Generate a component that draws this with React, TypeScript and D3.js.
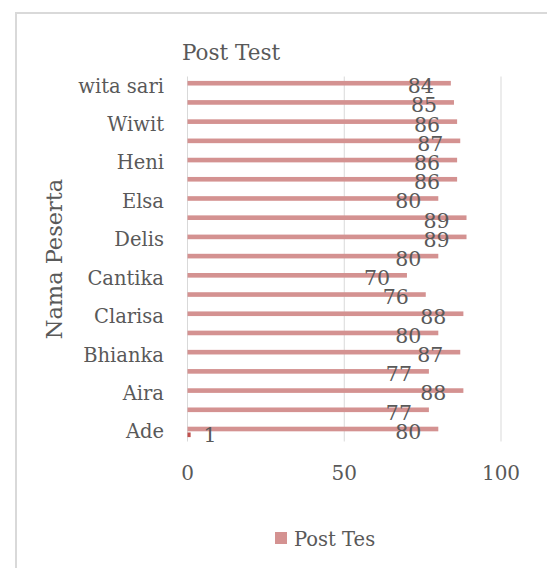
import React from "react";
import * as d3 from "d3";

// Categories from bottom (first) to top (last); unlabeled ones were skipped by the axis
const categories = ["Ade", "", "Aira", "", "Bhianka", "", "Clarisa", "", "Cantika", "", "Delis", "", "Elsa", "", "Heni", "", "Wiwit", "", "wita sari"];
const postTes = [80, 77, 88, 77, 87, 80, 88, 76, 70, 80, 89, 89, 80, 86, 86, 87, 86, 85, 84];
const secondSeries: (number | null)[] = [1, null, null, null, null, null, null, null, null, null, null, null, null, null, null, null, null, null, null];
const xTicks = [0, 50, 100];
const seriesNames = ["Post Tes", "No"];
const chartTitle = "Post Test";
const yTitle = "Nama Peserta";

const W = 547;
const H = 568;
const FONT = "'DejaVu Serif', serif";
const TEXT = "#595959";
const GRID = "#d9d9d9";
const BAR = "#d49291";
const BAR2 = "#c0504d";

export default function App() {
  const x = d3.scaleLinear().domain([0, 100]).range([187.5, 501]);
  const idx = d3.range(categories.length);
  // top of plot = last category
  const y = d3.scaleBand<number>().domain(idx.slice().reverse()).range([76.5, 441.5]).padding(0);
  const inner = d3.scaleBand<string>().domain(seriesNames).range([-5.2, 5.2]).paddingInner(0.2);
  const cc = (i: number) => (y(i) as number) + y.bandwidth() / 2;
  const [y0, y1] = y.range();

  return (
    <svg width={W} height={H} style={{ position: "absolute", left: 0, top: 0, background: "#fff" }}>
      <rect x={16} y={13} width={700} height={700} fill="#fff" stroke={GRID} strokeWidth={2} />
      <text x={182} y={60} fontFamily={FONT} fontSize={21.5} fill={TEXT}>{chartTitle}</text>

      {xTicks.map((t) => (
        <g key={t}>
          <line x1={x(t)} x2={x(t)} y1={y0} y2={y1} stroke={GRID} strokeWidth={1} />
          <text x={x(t)} y={480} textAnchor="middle" fontFamily={FONT} fontSize={20} fill={TEXT}>{t}</text>
        </g>
      ))}

      {idx.map((i) => (
        <g key={i}>
          <rect
            x={x(0)}
            y={cc(i) + (inner(seriesNames[0]) as number)}
            width={x(postTes[i]) - x(0)}
            height={inner.bandwidth()}
            fill={BAR}
          />
          {secondSeries[i] != null && (
            <rect
              x={x(0)}
              y={cc(i) + (inner(seriesNames[1]) as number)}
              width={x(secondSeries[i] as number) - x(0)}
              height={inner.bandwidth()}
              fill={BAR2}
            />
          )}
        </g>
      ))}

      {idx.map((i) => (
        <g key={"l" + i}>
          {categories[i] && i % 2 === 0 && (
            <text x={164} y={cc(i) + 6.5} textAnchor="end" fontFamily={FONT} fontSize={19.5} fill={TEXT}>{categories[i]}</text>
          )}
          <text x={x(postTes[i]) - 30} y={cc(i) + 7} textAnchor="middle" fontFamily={FONT} fontSize={20.5} fill={TEXT}>{postTes[i]}</text>
          {secondSeries[i] != null && (
            <text x={x(secondSeries[i] as number) + 19.5} y={cc(i) + 10} textAnchor="middle" fontFamily={FONT} fontSize={20.5} fill={TEXT}>{secondSeries[i]}</text>
          )}
        </g>
      ))}

      <text transform={`translate(62,259) rotate(-90)`} textAnchor="middle" fontFamily={FONT} fontSize={22.5} fill={TEXT}>{yTitle}</text>

      <rect x={275} y={532} width={12} height={12} fill={BAR} />
      <text x={294} y={546} fontFamily={FONT} fontSize={19.5} fill={TEXT}>{seriesNames[0]}</text>
    </svg>
  );
}
